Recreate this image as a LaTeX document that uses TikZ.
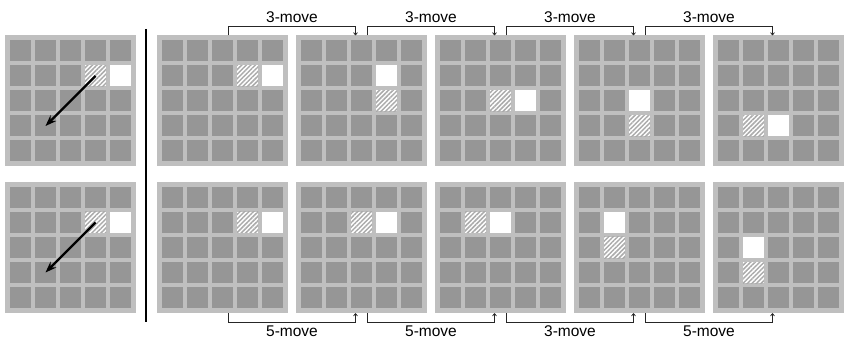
\documentclass[tikz,border=0pt]{standalone}
\usepackage{fontspec}
\setmainfont{Liberation Sans}
\usetikzlibrary{arrows.meta,patterns.meta}

\begin{document}
\begin{tikzpicture}[
        x=1pt, y=1pt,
        font=\fontsize{15.5}{18}\selectfont,
        board/.style={rectangle, fill=black!25, minimum size=131pt,
                      inner sep=0pt},
        cell/.style={fill=black!41},
        blank/.style={fill=white},
        striped/.style={preaction={fill=white},
                        pattern={Lines[angle=45,distance=3.2pt,line width=1.5pt]},
                        pattern color=black!33},
        link/.style={draw=black!85, line width=0.8pt,
                     -{To[length=3pt,width=4.5pt]}},
        jump/.style={line width=2.2pt, -{Stealth[length=11pt,width=8pt]}},
      ]
        \useasboundingbox (0,0) rectangle (846,343);

        % boards: name / centre / hatched cell / white cell
        \foreach \name/\cx/\cy/\hc/\hr/\wc/\wr in {
          l1/70.5/242/3/1/4/1, l2/70.5/95.5/3/1/4/1,
          t1/222.5/242/3/1/4/1, t2/361.5/242/3/2/3/1, t3/500.5/242/2/2/3/2,
          t4/639.5/242/2/3/2/2, t5/778.5/242/1/3/2/3,
          b1/222.5/95.5/3/1/4/1, b2/361.5/95.5/2/1/3/1, b3/500.5/95.5/1/1/2/1,
          b4/639.5/95.5/1/2/1/1, b5/778.5/95.5/1/3/1/2} {
          \node[board] (\name) at (\cx,\cy) {};
          \foreach \i in {0,...,4} {
            \foreach \j in {0,...,4} {
              \fill[cell] (\cx-60.5+25*\i, \cy+39.5-25*\j) rectangle ++(21,21);
            }
          }
          \fill[blank] (\cx-60.5+25*\wc, \cy+39.5-25*\wr) rectangle ++(21,21);
          \path[striped] (\cx-60.5+25*\hc, \cy+39.5-25*\hr) rectangle ++(21,21);
        }

        \draw[jump] ([shift={(25,25)}]l1.center) -- ([shift={(-25,-25)}]l1.center);
        \draw[jump] ([shift={(25,25)}]l2.center) -- ([shift={(-25,-25)}]l2.center);

        \draw[line width=1.2pt] (146,314) -- (146,21);

        \foreach \a/\b/\lab in {t1/t2/3-move, t2/t3/3-move, t3/t4/3-move, t4/t5/3-move} {
          \draw[link] ([xshift=6pt]\a.north) -- ++(0,8.5)
            -| ([xshift=-6pt]\b.north) node[pos=0.25, above] {\lab};
        }
        \foreach \a/\b/\lab in {b1/b2/5-move, b2/b3/5-move, b3/b4/3-move, b4/b5/5-move} {
          \draw[link] ([xshift=6pt]\a.south) -- ++(0,-9)
            -| ([xshift=-6pt]\b.south) node[pos=0.25, below] {\lab};
        }
      \end{tikzpicture}
\end{document}
